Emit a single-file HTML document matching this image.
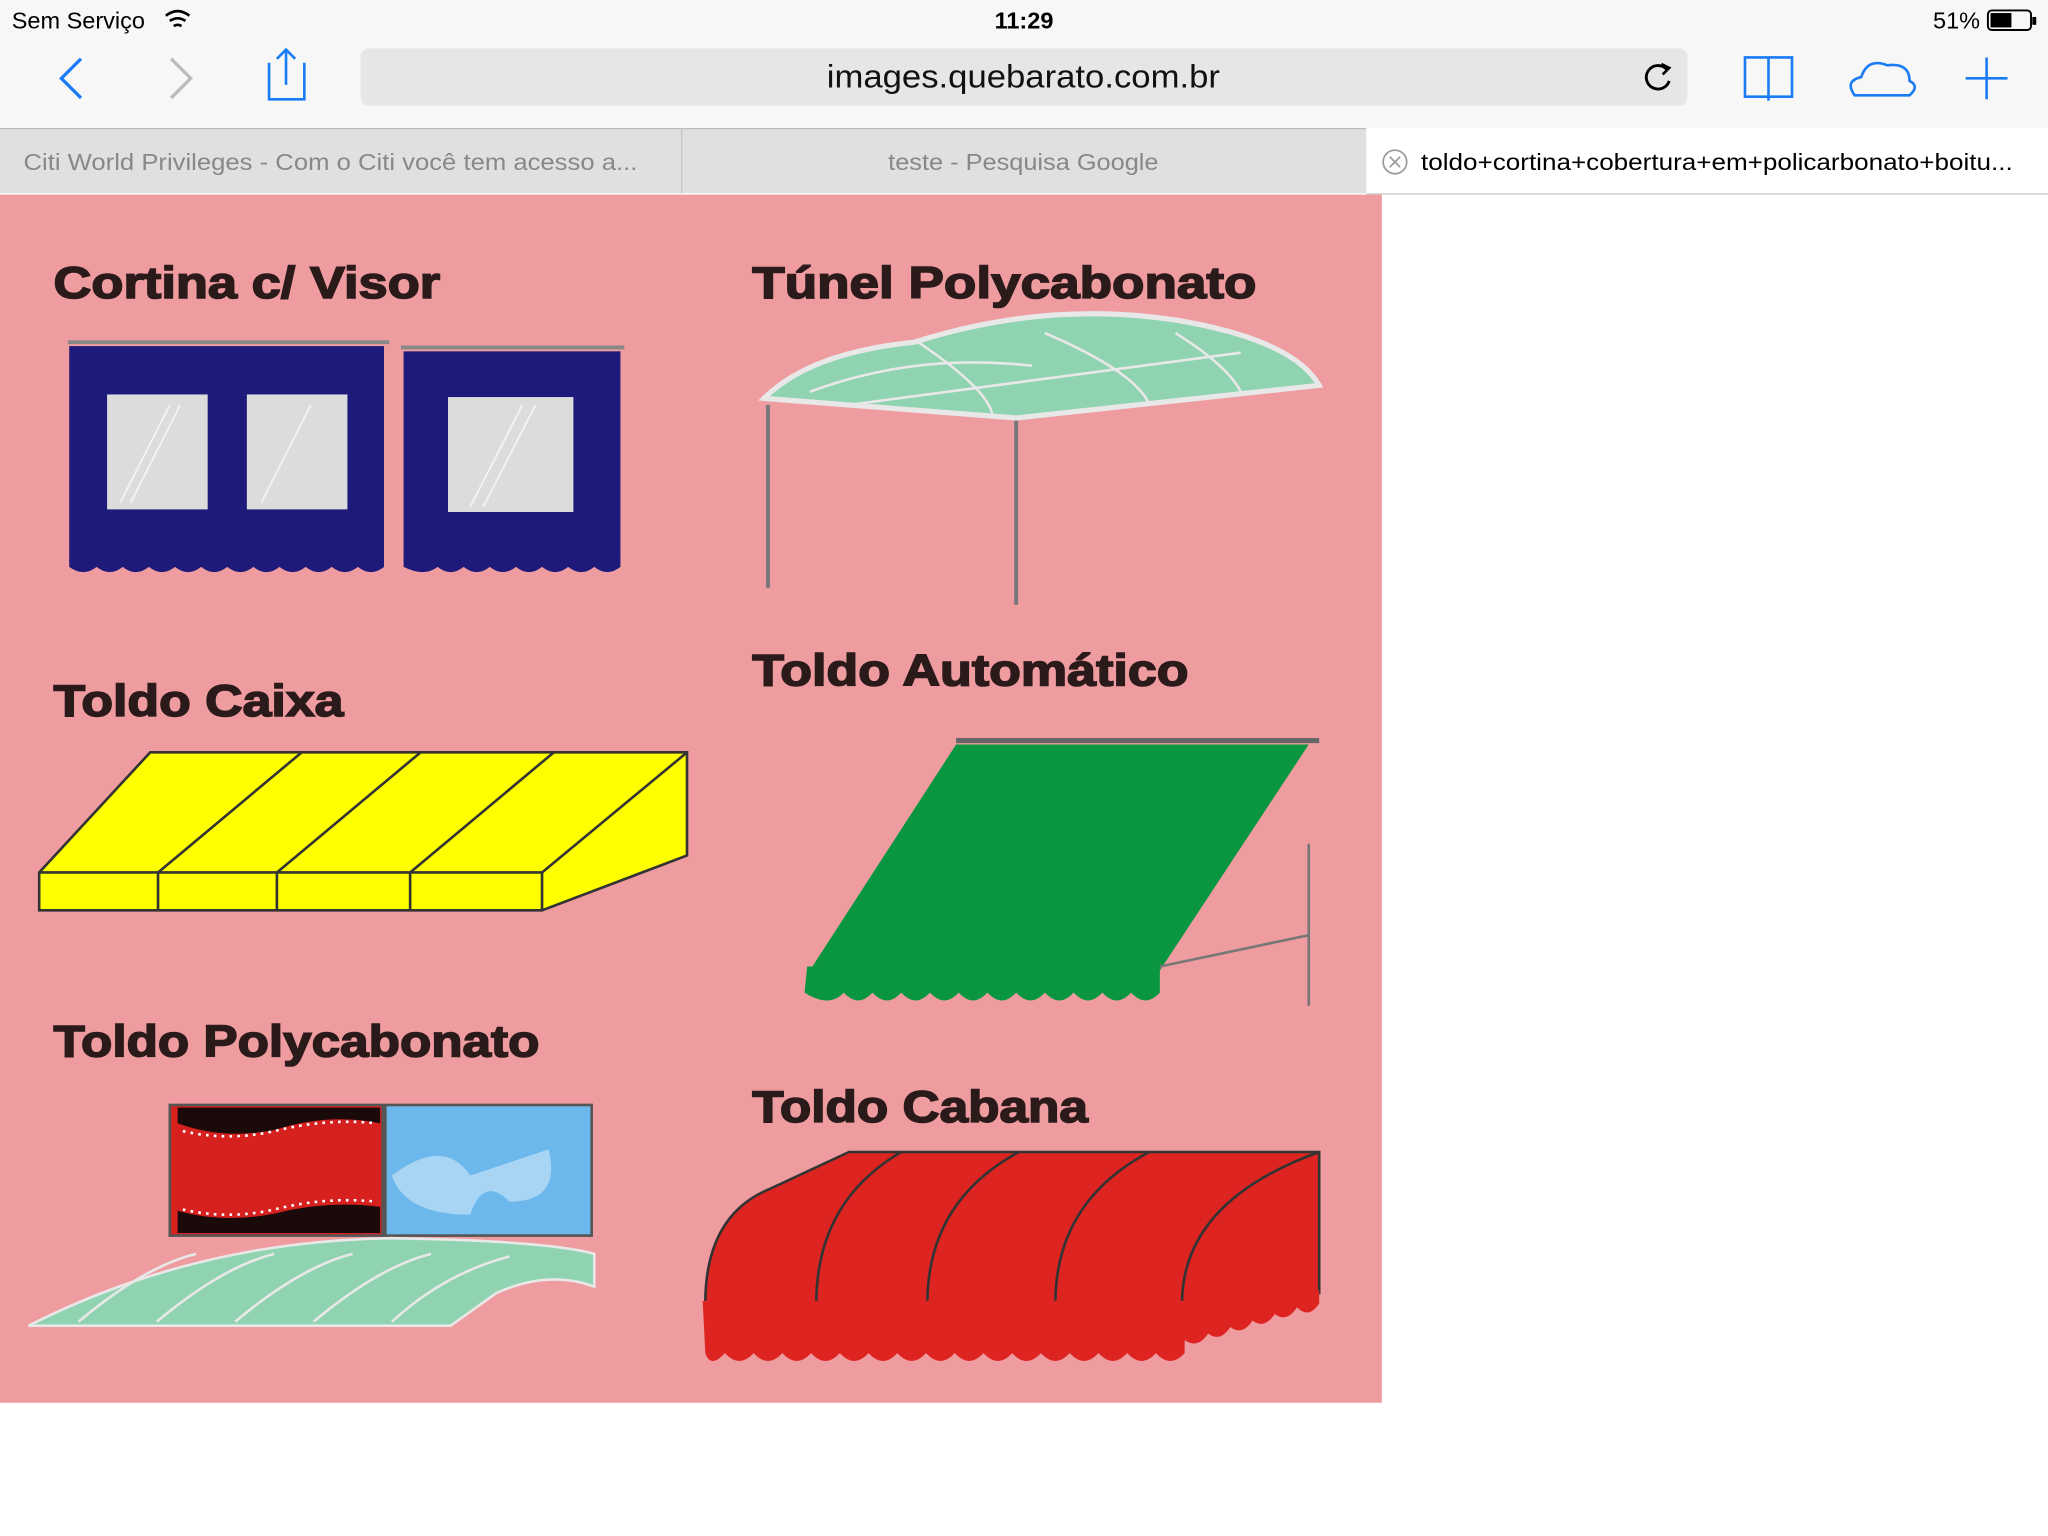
<!DOCTYPE html>
<html><head><meta charset="utf-8"><style>
html,body{margin:0;padding:0;background:#fff;}
svg{display:block;}
text{font-family:"Liberation Sans",sans-serif;}
</style></head><body>
<svg width="2048" height="1536" viewBox="0 0 1568 1176" xmlns="http://www.w3.org/2000/svg">
<rect x="0" y="0" width="1568" height="1176" fill="#fff"/>
<rect x="0" y="0" width="1568" height="98" fill="#f7f7f7"/>
<text x="9" y="22" font-size="18" fill="#000">Sem Serviço</text>
<path d="M127 12 q9 -7 18 0 M130 16 q6 -4 12 0 M133 20 q3 -2 6 0" stroke="#000" stroke-width="2" fill="none"/>
<text x="784" y="22" font-size="18" fill="#000" text-anchor="middle" font-weight="bold">11:29</text>
<text x="1516" y="22" font-size="18" fill="#000" text-anchor="end">51%</text>
<rect x="1522" y="8" width="33" height="15" rx="3" fill="none" stroke="#000" stroke-width="1.5"/>
<rect x="1524" y="10" width="16" height="11" fill="#000"/>
<rect x="1556" y="13" width="3" height="6" fill="#000"/>
<path d="M62 45 L47 60 L62 75" stroke="#1a7cf5" stroke-width="2.5" fill="none"/>
<path d="M131 45 L146 60 L131 75" stroke="#bbb" stroke-width="2.5" fill="none"/>
<path d="M206 48 L206 76 L233 76 L233 48 M219 38 L219 65 M212 45 L219 38 L226 45" stroke="#1a7cf5" stroke-width="2" fill="none"/>
<rect x="276" y="37" width="1016" height="44" rx="7" fill="#e6e6e8"/>
<text x="633" y="67" font-size="25" fill="#111" textLength="301" lengthAdjust="spacingAndGlyphs">images.quebarato.com.br</text>
<path d="M1276 53 A9 9 0 1 0 1278 62" stroke="#000" stroke-width="2.2" fill="none"/><path d="M1272 49 L1278 52 L1273 57" stroke="#000" stroke-width="2" fill="none"/>
<path d="M1336 44 L1336 74 L1372 74 L1372 44 Z M1354 44 L1354 77" stroke="#1a7cf5" stroke-width="2" fill="none"/>
<path d="M1420 73 Q1412 62 1425 59 Q1430 44 1445 50 Q1462 48 1462 62 Q1470 66 1462 73 Z" stroke="#1a7cf5" stroke-width="2" fill="none"/>
<path d="M1521 44 L1521 76 M1505 60 L1537 60" stroke="#1a7cf5" stroke-width="2"/>
<rect x="0" y="98" width="1046" height="50" fill="#e0e0e0"/>
<line x1="0" y1="98.5" x2="1046" y2="98.5" stroke="#bbb"/>
<line x1="522" y1="98" x2="522" y2="148" stroke="#c4c4c4"/>
<line x1="1046" y1="148.5" x2="1568" y2="148.5" stroke="#ccc"/>
<text x="18" y="130" font-size="18" fill="#888" textLength="470" lengthAdjust="spacingAndGlyphs">Citi World Privileges - Com o Citi você tem acesso a...</text>
<text x="680" y="130" font-size="18" fill="#888" textLength="207" lengthAdjust="spacingAndGlyphs">teste - Pesquisa Google</text>
<circle cx="1068" cy="124" r="9" fill="none" stroke="#999" stroke-width="1.3"/>
<path d="M1064 120 L1072 128 M1072 120 L1064 128" stroke="#999" stroke-width="1.3"/>
<text x="1088" y="130" font-size="18" fill="#000" textLength="453" lengthAdjust="spacingAndGlyphs">toldo+cortina+cobertura+em+policarbonato+boitu...</text>
<rect x="0" y="149" width="1058" height="925" fill="#ef9ca0"/>
<g font-weight="bold" font-size="34" fill="#2a1a1a" stroke="#2a1a1a" stroke-width="1.2" lengthAdjust="spacingAndGlyphs">
<text x="41" y="228" textLength="296" lengthAdjust="spacingAndGlyphs">Cortina c/ Visor</text>
<text x="576" y="228" textLength="386" lengthAdjust="spacingAndGlyphs">Túnel  Polycabonato</text>
<text x="41" y="548" textLength="222" lengthAdjust="spacingAndGlyphs">Toldo Caixa</text>
<text x="576" y="525" textLength="334" lengthAdjust="spacingAndGlyphs">Toldo Automático</text>
<text x="41" y="809" textLength="372" lengthAdjust="spacingAndGlyphs">Toldo Polycabonato</text>
<text x="576" y="859" textLength="257" lengthAdjust="spacingAndGlyphs">Toldo Cabana</text>
</g>
<line x1="52" y1="262" x2="298" y2="262" stroke="#888" stroke-width="3"/>
<line x1="307" y1="266" x2="478" y2="266" stroke="#888" stroke-width="3"/>
<rect x="53" y="265" width="241" height="165" fill="#1e1a7a"/>
<rect x="309" y="269" width="166" height="161" fill="#1e1a7a"/>
<path d="M53 428 h241 v6 q-10 8 -20 0 q-10 8 -20 0 q-10 8 -20 0 q-10 8 -20 0 q-10 8 -20 0 q-10 8 -20 0 q-10 8 -20 0 q-10 8 -20 0 q-10 8 -20 0 q-10 8 -20 0 q-10 8 -20 0 q-10 8 -21 0 z" fill="#1e1a7a"/>
<path d="M309 428 h166 v6 q-10 8 -20 0 q-10 8 -20 0 q-10 8 -20 0 q-10 8 -20 0 q-10 8 -20 0 q-10 8 -20 0 q-10 8 -20 0 q-10 8 -26 0 z" fill="#1e1a7a"/>
<g fill="#dcdcdc"><rect x="82" y="302" width="77" height="88"/><rect x="189" y="302" width="77" height="88"/><rect x="343" y="304" width="96" height="88"/></g>
<path d="M92 385 L130 310 M100 385 L138 310 M200 385 L238 310 M360 388 L400 310 M370 388 L410 310" stroke="#f2f2f2" stroke-width="1.5"/>
<path d="M585 305 Q620 270 700 262 Q800 230 900 245 Q990 260 1010 295 L778 320 Z" fill="#8fd3b0" stroke="#e8e8e8" stroke-width="4"/>
<path d="M620 300 Q700 270 790 280 M650 310 L950 270 M700 260 Q760 300 760 320 M800 255 Q870 285 880 310 M900 255 Q940 280 950 300" stroke="#e8e8e8" stroke-width="2" fill="none"/>
<line x1="588" y1="310" x2="588" y2="450" stroke="#777" stroke-width="3"/>
<line x1="778" y1="322" x2="778" y2="463" stroke="#777" stroke-width="3"/>
<path d="M30 668 L115 576 L526 576 L526 655 L415 697 L30 697 Z" fill="#ffff00" stroke="#333" stroke-width="2"/>
<path d="M30 668 L415 668 L526 576 M415 668 L415 697 M121 668 L231 576 M121 668 L121 697 M212 668 L322 576 M212 668 L212 697 M314 668 L424 576 M314 668 L314 697" stroke="#333" stroke-width="2" fill="none"/>
<line x1="732" y1="567" x2="1010" y2="567" stroke="#666" stroke-width="4"/>
<path d="M732 570 L1002 570 L888 743 L620 743 Z" fill="#0a9640"/>
<path d="M618 740 h270 v20 q-11 12 -22 0 q-11 12 -22 0 q-11 12 -22 0 q-11 12 -22 0 q-11 12 -22 0 q-11 12 -22 0 q-11 12 -22 0 q-11 12 -22 0 q-11 12 -22 0 q-11 12 -22 0 q-11 12 -22 0 q-11 12 -30 0 z" fill="#0a9640"/>
<path d="M1002 646 L1002 770 M888 740 L1002 716" stroke="#777" stroke-width="2"/>
<rect x="130" y="846" width="163" height="100" fill="#d6211f" stroke="#555" stroke-width="2"/>
<path d="M136 848 h155 v12 q-40 -8 -80 5 q-40 8 -75 -5z M136 944 h155 v-20 q-40 -5 -80 5 q-40 8 -75 -2z" fill="#1a0a0a"/>
<path d="M140 866 q35 8 70 0 q40 -10 78 -6 M140 926 q35 8 70 0 q40 -10 78 -6" stroke="#fff" stroke-width="2" stroke-dasharray="2 4" fill="none"/>
<rect x="295" y="846" width="158" height="100" fill="#6cb8ec" stroke="#555" stroke-width="2"/>
<path d="M300 900 q40 -30 60 0 q30 -10 60 -20 q10 40 -30 40 q-20 -20 -30 10 q-50 0 -60 -30z" fill="#a8d5f3"/>
<path d="M22 1015 Q150 950 300 948 Q420 950 455 960 L455 985 Q420 972 380 990 L345 1015 Z" fill="#8fd3b0" stroke="#e8e8e8" stroke-width="2"/>
<path d="M60 1012 Q110 970 150 960 M120 1012 Q170 970 210 960 M180 1012 Q230 970 270 960 M240 1012 Q290 970 330 960 M300 1012 Q340 975 390 962" stroke="#e8e8e8" stroke-width="2" fill="none"/>
<path d="M540 998 Q540 930 590 910 L650 882 L1010 882 L1010 990 L905 998 Z" fill="#dd2420" stroke="#333" stroke-width="2"/>
<path d="M625 998 Q625 920 690 882 M710 998 Q710 920 780 882 M808 998 Q808 920 880 882 M905 998 Q905 920 1010 882" stroke="#333" stroke-width="2" fill="none"/>
<path d="M538 996 h367 l105 -8 v10 q-8 12 -17 3 q-8 12 -17 5 q-8 12 -17 5 q-8 12 -17 5 q-8 12 -17 5 q-8 12 -18 5 v10 q-11 12 -22 0 q-11 12 -22 0 q-11 12 -22 0 q-11 12 -22 0 q-11 12 -22 0 q-11 12 -22 0 q-11 12 -22 0 q-11 12 -22 0 q-11 12 -22 0 q-11 12 -22 0 q-11 12 -22 0 q-11 12 -22 0 q-11 12 -22 0 q-11 12 -22 0 q-11 12 -22 0 q-11 12 -22 0 q-11 12 -15 0 z" fill="#dd2420"/>
</svg>
</body></html>
